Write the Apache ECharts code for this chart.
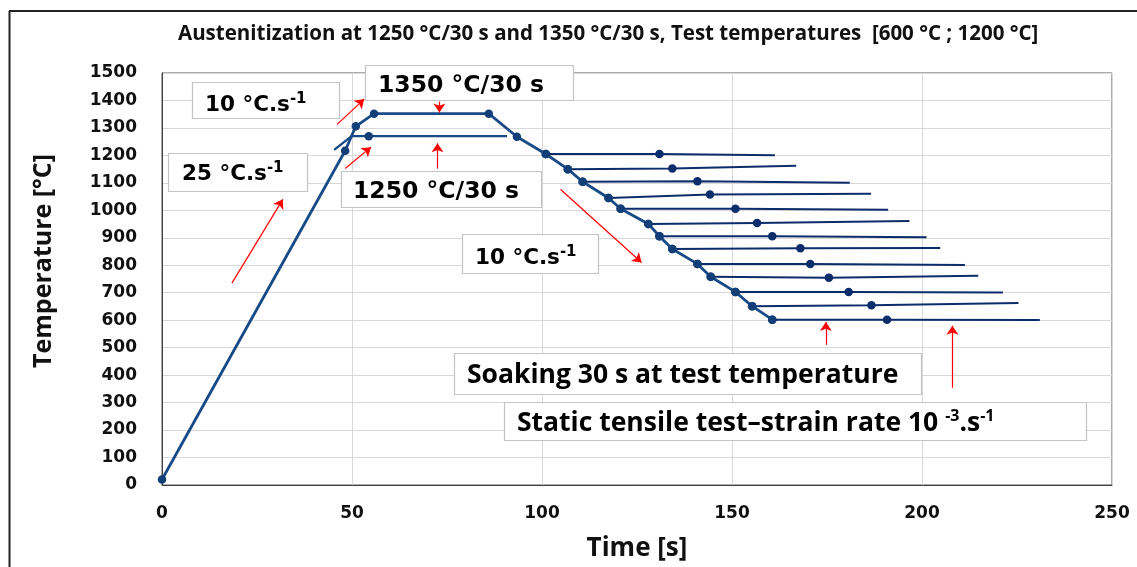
<!DOCTYPE html>
<html><head><meta charset="utf-8">
<script src="https://cdn.jsdelivr.net/npm/echarts@6/dist/echarts.min.js"></script>
<style>html,body{margin:0;padding:0;background:#fff}#c{width:1137px;height:567px}</style>
</head><body><div id="c"></div>
<script>
// ---- data (time [s], temperature [°C]) ----
const xTicks = [0, 50, 100, 150, 200, 250];
const yTicks = [0,100,200,300,400,500,600,700,800,900,1000,1100,1200,1300,1400,1500];
const mainPath = [[0,20],[48.2,1217],[51,1306],[55.8,1352],[86,1352],[93.4,1268],[101,1205],[106.8,1150],[110.7,1104],[117.5,1045],[120.7,1006],[128,950],[130.9,906],[134.3,859],[140.9,805],[144.4,758],[150.9,703],[155.3,651],[160.6,602]];
const path1250 = [[45.3,1220],[49.9,1270],[54.4,1270],[90.8,1270]];
const testStart = [[101,1205],[106.8,1150],[110.7,1104],[117.5,1045],[120.7,1006],[128,950],[130.9,906],[134.3,859],[140.9,805],[144.4,758],[150.9,703],[155.3,651],[160.6,602]];
const testMid = [[130.9,1205],[134.3,1152],[140.9,1106],[144.2,1058],[150.9,1006],[156.6,954],[160.6,906],[168,862],[170.6,805],[175.5,755],[180.7,703],[186.7,654],[190.8,602]];
const testEnd = [[161.3,1201],[166.9,1162],[181,1100],[186.6,1060],[191.1,1002],[196.7,961],[201.2,902],[204.8,863],[211.3,801],[214.8,762],[221.3,701],[225.4,663],[231,601]];
const arrows = [
  [[18.4,735],[31.8,1040]],
  [[46.1,1313],[53.2,1405]],
  [[48.2,1152],[55,1230]],
  [[73,1396],[73,1356]],
  [[72.5,1152],[72.5,1244]],
  [[104.9,1076],[126.2,810]],
  [[174.7,510],[174.7,593]],
  [[208,354],[208,580]]
];
const titleText = 'Austenitization at 1250 °C/30 s and 1350 °C/30 s, Test temperatures  [600 °C ; 1200 °C]';
const labels = [
  {parts:[['m','10 °C.s'],['s','-1']]},
  {parts:[['b','1350 °C/30 s']]},
  {parts:[['m','25 °C.s'],['s','-1']]},
  {parts:[['b','1250 °C/30 s']]},
  {parts:[['m','10 °C.s'],['s','-1']]},
  {parts:[['c','Soaking 30 s at test temperature']]},
  {parts:[['c','Static tensile test\u2013strain rate 10 '],['cs','-3'],['c','.s'],['cs','-1']]}
];
// ---- layout of annotation boxes (pixels) ----
const boxLayout = [
  {x:192,y:82,w:147,h:36,tx:205,ty:105},
  {x:365,y:65,w:208,h:35,tx:378,ty:86},
  {x:168,y:153,w:139,h:38,tx:182,ty:174},
  {x:341,y:171,w:200,h:36,tx:353,ty:192},
  {x:462,y:234,w:136,h:39,tx:475,ty:258},
  {x:454,y:353,w:467,h:41,tx:467,ty:375},
  {x:504,y:402,w:582,h:38,tx:517,ty:423}
];

const NAVY = '#174a86', DARK = '#0c2d6b';
const rich = {
  m:{fontFamily:'DejaVu Sans',fontWeight:'bold',fontSize:21.5,lineHeight:26,color:'#111'},
  b:{fontFamily:'DejaVu Sans',fontWeight:'bold',fontSize:23.5,lineHeight:26,color:'#111'},
  s:{fontFamily:'DejaVu Sans',fontWeight:'bold',fontSize:15,lineHeight:13,verticalAlign:'top',color:'#111'},
  c:{fontFamily:'Open Sans',fontWeight:'bold',fontSize:26.5,lineHeight:30,color:'#111'},
  cs:{fontFamily:'Open Sans',fontWeight:'bold',fontSize:16,lineHeight:14,verticalAlign:'top',color:'#111'}
};

const series = [];
series.push({
  type:'line', data: mainPath, symbol:'circle', symbolSize:8.5, showSymbol:true,
  lineStyle:{color:NAVY,width:2.8}, itemStyle:{color:'#123f78'}, z:4, emphasis:{disabled:true},
  markLine:{
    silent:true, symbol:['none','arrow'], symbolSize:9, animation:false,
    lineStyle:{color:'#ff0000',width:1.2,type:'solid'}, itemStyle:{color:'#ff0000'},
    label:{show:false}, emphasis:{disabled:true},
    data: arrows.map(a => [{coord:a[0]},{coord:a[1]}])
  }
});
series.push({
  type:'line', data: path1250.map((p,i)=> i===2 ? {value:p} : {value:p, symbol:'none'}),
  symbol:'circle', symbolSize:8.5, showSymbol:true,
  lineStyle:{color:NAVY,width:2.4}, itemStyle:{color:'#123f78'}, z:3, emphasis:{disabled:true}
});
for (let i = 0; i < testStart.length; i++) {
  series.push({
    type:'line', data:[{value:testStart[i]},{value:testMid[i]},{value:testEnd[i],symbol:'none'}],
    symbol:'circle', symbolSize:8.5, showSymbol:true,
    lineStyle:{color:DARK,width:2}, itemStyle:{color:DARK}, z:3, emphasis:{disabled:true}
  });
}

const graphic = [
  {type:'line', shape:{x1:9.5,y1:11,x2:9.5,y2:567}, style:{stroke:'#222',lineWidth:2}, z:50},
  {type:'line', shape:{x1:9,y1:11,x2:1137,y2:11}, style:{stroke:'#222',lineWidth:2}, z:50}
];
boxLayout.forEach((b, i) => {
  graphic.push({type:'rect', shape:{x:b.x+0.5,y:b.y+0.5,width:b.w,height:b.h}, style:{fill:'#fff',stroke:'#c4c4c4',lineWidth:1.2}, z:100});
  graphic.push({type:'text', x:b.tx, y:b.ty, z:101, style:{
    text: labels[i].parts.map(p => '{' + p[0] + '|' + p[1] + '}').join(''),
    rich: rich, align:'left', textAlign:'left', verticalAlign:'middle', textVerticalAlign:'middle'
  }});
});

const chart = echarts.init(document.getElementById('c'));
chart.setOption({
  animation:false,
  backgroundColor:'#fff',
  title:{text:titleText, left:173, top:19, textStyle:{fontFamily:'Open Sans',fontWeight:'bold',fontSize:20.5,color:'#111'}},
  grid:{left:162,right:25,top:73,bottom:80,show:true,borderColor:'#595959',borderWidth:1},
  xAxis:{
    type:'value', min:xTicks[0], max:xTicks[xTicks.length-1], interval:xTicks[1]-xTicks[0],
    name:'Time [s]', nameLocation:'middle', nameGap:51,
    nameTextStyle:{fontFamily:'Open Sans',fontWeight:'bold',fontSize:26,color:'#111'},
    axisLine:{show:true,lineStyle:{color:'#404040',width:1}}, axisTick:{show:false},
    axisLabel:{margin:20,fontFamily:'DejaVu Sans',fontWeight:'bold',fontSize:17,color:'#111',formatter:v=>String(v)},
    splitLine:{show:true,lineStyle:{color:'#d9d9d9',width:1}}
  },
  yAxis:{
    type:'value', min:yTicks[0], max:yTicks[yTicks.length-1], interval:yTicks[1]-yTicks[0],
    name:'Temperature [°C]', nameLocation:'middle', nameGap:106, nameRotate:90,
    nameTextStyle:{fontFamily:'Open Sans',fontWeight:'bold',fontSize:25,color:'#111',padding:[0,0,0,36]},
    axisLine:{show:true,lineStyle:{color:'#404040',width:1}}, axisTick:{show:false},
    axisLabel:{margin:25,fontFamily:'DejaVu Sans',fontWeight:'bold',fontSize:17,color:'#111',formatter:v=>String(v)},
    splitLine:{show:true,lineStyle:{color:'#d9d9d9',width:1}}
  },
  series: series,
  graphic: graphic
});
</script>
</body></html>
